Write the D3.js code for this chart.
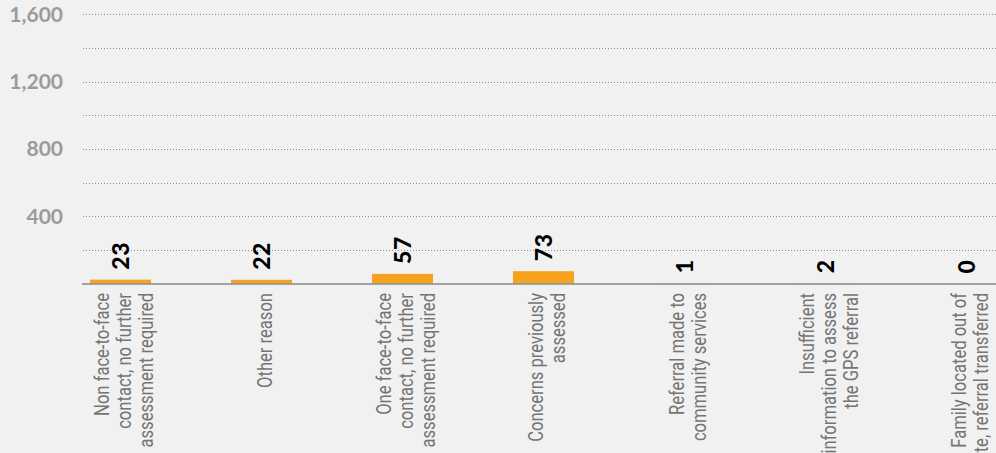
<!DOCTYPE html>
<html>
<head>
<meta charset="utf-8">
<script src="https://cdn.jsdelivr.net/npm/d3@7/dist/d3.min.js"></script>
<style>
  html, body { margin: 0; padding: 0; background: #f1f1f1; overflow: hidden; }
  svg { display: block; }
</style>
</head>
<body>
<svg id="chart" width="996" height="453"></svg>
<script>
const categories = [
  "Non face-to-face\ncontact, no further\nassessment required",
  "Other reason",
  "One face-to-face\ncontact, no further\nassessment required",
  "Concerns previously\nassessed",
  "Referral made to\ncommunity services",
  "Insufficient\ninformation to assess\nthe GPS referral",
  "Family located out of\nstate, referral transferred"
];
const values = [23, 22, 57, 73, 1, 2, 0];
const gridTicks = [200, 400, 600, 800, 1000, 1200, 1400, 1600];
const labelTicks = [400, 800, 1200, 1600];

const svg = d3.select("#chart");
const W = 996, H = 453;

const x = d3.scaleBand()
  .domain(categories)
  .range([50, 1037])
  .paddingInner(0.5674)
  .paddingOuter(0.2837);

const y = d3.scaleLinear()
  .domain([0, 1600])
  .range([283.5, 14.2]);

// gridlines
svg.append("g").selectAll("line")
  .data(gridTicks)
  .join("line")
  .attr("x1", 83).attr("x2", W)
  .attr("y1", d => Math.round(y(d)) + 0.5)
  .attr("y2", d => Math.round(y(d)) + 0.5)
  .attr("stroke", "#8a8a8a")
  .attr("stroke-width", 1)
  .attr("stroke-dasharray", "1,2");

// y labels
svg.append("g").selectAll("text")
  .data(labelTicks)
  .join("text")
  .attr("x", 63)
  .attr("y", d => y(d))
  .attr("dy", "0.36em")
  .attr("text-anchor", "end")
  .attr("fill", "#9b9b9b")
  .style("font-family", "Lato, 'Open Sans', sans-serif")
  .style("font-weight", 700)
  .style("font-size", "21px")
  .text(d => d3.format(",")(d));

// bars
svg.append("g").selectAll("rect")
  .data(values)
  .join("rect")
  .attr("x", (d, i) => x(categories[i]))
  .attr("width", x.bandwidth())
  .attr("y", d => y(d))
  .attr("height", d => y(0) - y(d))
  .attr("fill", "#f7a21c");

// baseline
svg.append("line")
  .attr("x1", 82).attr("x2", W)
  .attr("y1", y(0) + 0.5).attr("y2", y(0) + 0.5)
  .attr("stroke", "#878787")
  .attr("stroke-width", 1.5);

// value labels
svg.append("g").selectAll("text")
  .data(values)
  .join("text")
  .attr("transform", (d, i) => `translate(${x(categories[i]) + x.bandwidth() / 2},${y(d) - 10}) rotate(-90)`)
  .attr("dy", "0.36em")
  .attr("text-anchor", "start")
  .attr("fill", "#000")
  .style("font-family", "Lato, 'Open Sans', sans-serif")
  .style("font-weight", 900)
  .style("font-size", "23px")
  .style("letter-spacing", "0.5px")
  .text(d => d);

// category labels: condensed look via horizontal scale of Roboto
const catFont = "Roboto, 'Liberation Sans', sans-serif";
const probe = svg.append("text")
  .style("font-family", catFont).style("font-size", "20px")
  .text("Other reason");
const probeLen = probe.node().getComputedTextLength();
probe.remove();
const sx = 95 / probeLen;

const catG = svg.append("g").selectAll("text")
  .data(categories)
  .join("text")
  .attr("transform", d => `translate(${x(d) + x.bandwidth() / 2 + 3},293) rotate(-90) scale(${sx},1)`)
  .attr("text-anchor", "end")
  .attr("fill", "#747474")
  .style("font-family", catFont)
  .style("font-size", "20px");

catG.each(function(d) {
  const lines = d.split("\n");
  const n = lines.length;
  d3.select(this).selectAll("tspan")
    .data(lines)
    .join("tspan")
    .attr("x", 0)
    .attr("y", (l, i) => (i - (n - 1) / 2) * 22)
    .attr("dy", "0.36em")
    .text(l => l);
});
</script>
</body>
</html>
